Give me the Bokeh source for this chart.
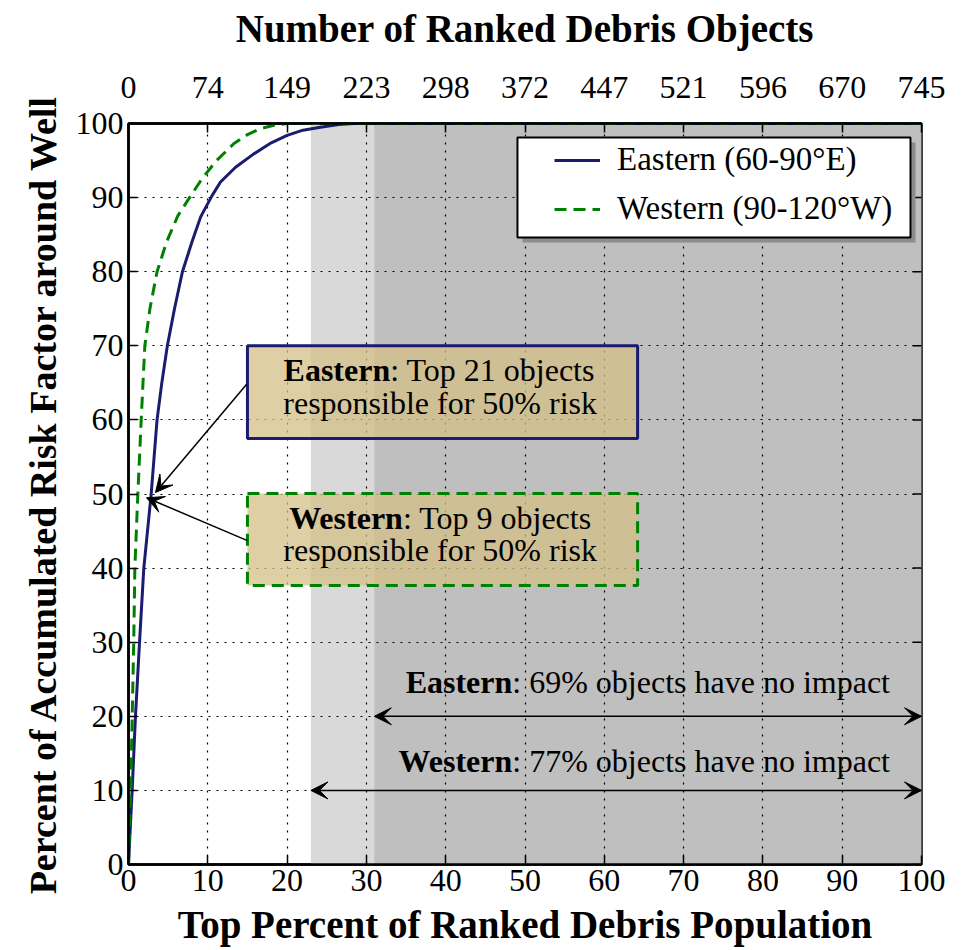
import math
from bokeh.plotting import figure
from bokeh.models import (LinearAxis, FixedTicker, Range1d, Legend, LegendItem,
                          BoxAnnotation, Arrow, VeeHead)
from bokeh.core.properties import value
from bokeh.embed import file_html
from bokeh.resources import INLINE

# ---------------- data ----------------
eastern_x = [0, 0.46, 0.88, 1.39, 1.93, 2.86, 3.6, 4.2, 4.9, 5.8, 6.8, 8.0, 9.1, 10.5, 11.6,
             13.5, 15.8, 18.0, 20.0, 22.0, 24.2, 26.5, 28.4, 100]
eastern_y = [0, 10, 20, 30, 40, 50, 60, 65, 70, 75, 80, 84, 87.4, 90.2, 92.1,
             94.1, 95.9, 97.4, 98.4, 99.1, 99.5, 99.85, 100, 100]
western_x = [0, 0.28, 0.47, 0.66, 0.8, 1.18, 1.6, 2.06, 2.7, 3.6, 4.8, 6.2, 7.7, 9.3, 11.1,
             13.3, 15.0, 16.6, 18.5, 20.0, 100]
western_y = [0, 10, 20, 30, 40, 50, 60, 70, 75, 80, 84, 87.5, 90, 92.6, 95,
             97.3, 98.5, 99.3, 99.8, 100, 100]

series_labels = ["Eastern (60-90\u00b0E)", "Western (90-120\u00b0W)"]
region_names = ["Eastern", "Western"]
no_impact_pct = [69, 77]          # Eastern, Western
top_objects_for_half = [21, 9]    # Eastern, Western
risk_share = 50

x_ticks = [0, 10, 20, 30, 40, 50, 60, 70, 80, 90, 100]
y_ticks = [0, 10, 20, 30, 40, 50, 60, 70, 80, 90, 100]
top_tick_labels = ["0", "74", "149", "223", "298", "372", "447", "521", "596", "670", "745"]

# ---------------- style ----------------
FONT = "Liberation Serif"
NAVY = "#1b1b6f"
GREEN = "#008000"
BOX_FILL = "#d4bf85"
TY = 1.4   # text baseline correction (data units, upward)

p = figure(frame_width=793, frame_height=741,
           x_range=Range1d(0, 100), y_range=Range1d(0, 100),
           output_backend="svg", toolbar_location=None,
           min_border_left=128, min_border_right=38, min_border_top=123, min_border_bottom=70,
           x_axis_label="Top Percent of Ranked Debris Population",
           y_axis_label="Percent of Accumulated Risk Factor around Well")
p.outline_line_color = "black"
p.outline_line_width = 2.5
p.background_fill_color = "white"
p.border_fill_color = "white"

# shaded "no impact" regions (western lighter, eastern darker)
shade_left = [100 - no_impact_pct[1], 100 - no_impact_pct[0]]
p.quad(left=shade_left, right=[100, 100], bottom=[0, 0], top=[100, 100],
       fill_color=["#d9d9d9", "#bfbfbf"], line_color=None, level="image")

for g in (p.xgrid[0], p.ygrid[0]):
    g.grid_line_color = "black"
    g.grid_line_dash = "2 6"
    g.grid_line_width = 1.2
p.xgrid.ticker = FixedTicker(ticks=x_ticks)
p.ygrid.ticker = FixedTicker(ticks=y_ticks)

def style_axis(ax, ticks):
    ax.ticker = FixedTicker(ticks=ticks)
    ax.axis_line_width = 2.5
    ax.axis_line_color = "black"
    ax.major_tick_in = 9
    ax.major_tick_out = 0
    ax.major_tick_line_width = 1.5
    ax.major_tick_line_color = "black"
    ax.minor_tick_line_color = None
    ax.major_label_text_font = FONT
    ax.major_label_text_font_size = "32px"
    ax.major_label_text_color = "black"
    ax.axis_label_text_font = FONT
    ax.axis_label_text_font_size = "39px"
    ax.axis_label_text_font_style = "bold"
    ax.axis_label_text_color = "black"

style_axis(p.xaxis[0], x_ticks)
style_axis(p.yaxis[0], y_ticks)
p.xaxis[0].major_label_standoff = 5
p.xaxis[0].axis_label_standoff = 9
p.yaxis[0].major_label_standoff = 5
p.yaxis[0].axis_label_standoff = 9
p.yaxis[0].axis_label_text_font_size = "38px"

ax_top = LinearAxis(axis_label="Number of Ranked Debris Objects")
style_axis(ax_top, x_ticks)
ax_top.major_label_overrides = {t: l for t, l in zip(x_ticks, top_tick_labels)}
ax_top.major_label_standoff = 26
ax_top.axis_label_standoff = 24
p.add_layout(ax_top, "above")

# right-hand inward ticks
p.ray(x=[100] * len(y_ticks), y=y_ticks, length=9, length_units="screen",
      angle=math.pi, line_color="black", line_width=1.5)

# curves
r_e = p.line(eastern_x, eastern_y, line_color=NAVY, line_width=3)
r_w = p.line(western_x, western_y, line_color=GREEN, line_width=3, line_dash="12 7")

# annotation boxes
p.quad(left=[15.0], right=[64.2], bottom=[57.5], top=[70.0],
       fill_color=BOX_FILL, fill_alpha=0.75, line_color=NAVY, line_width=3)
p.quad(left=[15.0], right=[64.2], bottom=[37.65], top=[50.07],
       fill_color=BOX_FILL, fill_alpha=0.75, line_color=GREEN, line_width=3, line_dash="12 7")

TXT = dict(text_font=value(FONT), text_font_size="32px", text_color="black",
           text_baseline="alphabetic")
# box texts: bold region name + normal remainder split at the colon
box_line1_y = [65.3 + TY, 45.3 + TY]
box_line2_y = [60.9 + TY, 41.0 + TY]
p.text(x=[33.0, 34.6], y=box_line1_y, text=region_names,
       text_align="right", text_font_style="bold", **TXT)
p.text(x=[33.0, 34.6], y=box_line1_y,
       text=[f": Top {n} objects" for n in top_objects_for_half],
       text_align="left", **TXT)
p.text(x=[39.3, 39.3], y=box_line2_y,
       text=[f"responsible for {risk_share}% risk"] * 2, text_align="center", **TXT)

# no-impact texts
row_y = [23.25 + TY, 12.6 + TY]
p.text(x=[48.4, 48.4], y=row_y, text=region_names,
       text_align="right", text_font_style="bold", **TXT)
p.text(x=[48.4, 48.4], y=row_y,
       text=[f": {v}% objects have no impact" for v in no_impact_pct],
       text_align="left", **TXT)

# arrows
def head():
    return VeeHead(size=17, fill_color="black", line_color="black", line_width=1)

p.add_layout(Arrow(end=head(), x_start=14.9, y_start=64.8, x_end=3.4, y_end=50.2,
                   line_width=1.5, line_color="black"))
p.add_layout(Arrow(end=head(), x_start=15.0, y_start=43.7, x_end=2.27, y_end=49.5,
                   line_width=1.5, line_color="black"))
p.add_layout(Arrow(start=head(), end=head(), x_start=shade_left[1], y_start=20,
                   x_end=100, y_end=20, line_width=1.5, line_color="black"))
p.add_layout(Arrow(start=head(), end=head(), x_start=shade_left[0], y_start=10,
                   x_end=100, y_end=10, line_width=1.5, line_color="black"))

# legend frame with shadow
p.add_layout(BoxAnnotation(left=49.68, right=99.24, bottom=83.95, top=97.44,
                           fill_color="#8c8c8c", fill_alpha=1.0, line_color=None))
p.add_layout(BoxAnnotation(left=49.05, right=98.61, bottom=84.62, top=98.11,
                           fill_color="white", fill_alpha=1.0,
                           line_color="black", line_width=2, line_alpha=1.0))
legend = Legend(items=[LegendItem(label=series_labels[0], renderers=[r_e]),
                       LegendItem(label=series_labels[1], renderers=[r_w])],
                location="top_right", margin=18, padding=18, spacing=12,
                label_height=37, glyph_width=46, glyph_height=20, label_standoff=17,
                label_width=286,
                border_line_color=None, background_fill_alpha=0,
                label_text_font=FONT, label_text_font_size="33px", label_text_color="black")
p.add_layout(legend)

open("out.html", "w").write(file_html(p, INLINE))
